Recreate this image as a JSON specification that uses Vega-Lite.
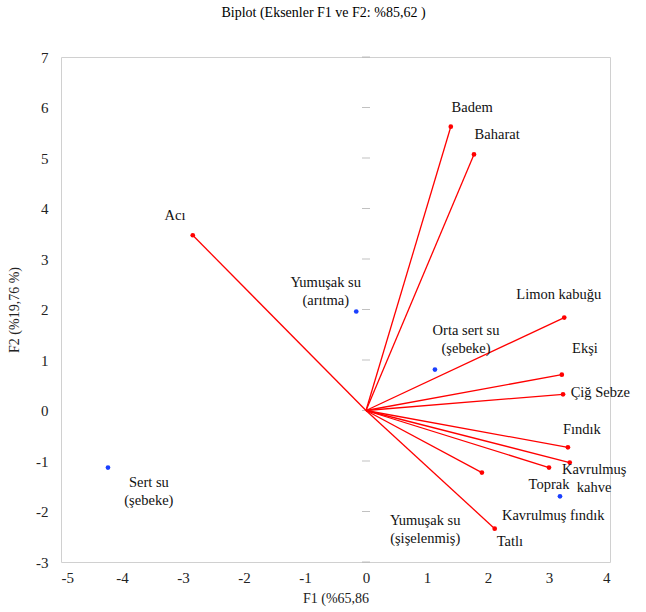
{
  "$schema": "https://vega.github.io/schema/vega-lite/v6.json",
  "width": 549,
  "height": 505,
  "autosize": {"type": "none"},
  "padding": {"left": 61, "top": 57, "right": 36, "bottom": 50},
  "background": "white",
  "title": {
    "text": "Biplot (Eksenler F1 ve F2: %85,62 )",
    "font": "Times New Roman, Liberation Serif, serif",
    "fontSize": 14,
    "fontWeight": "normal",
    "color": "#000000",
    "anchor": "middle",
    "dx": -12,
    "offset": 30
  },
  "config": {
    "font": "Times New Roman, Liberation Serif, serif",
    "view": {"stroke": "#d0d0d0", "strokeWidth": 1},
    "axis": {
      "grid": false,
      "domain": false,
      "ticks": false,
      "labelFont": "Times New Roman, Liberation Serif, serif",
      "labelFontSize": 15,
      "labelColor": "#222222",
      "titleFont": "Times New Roman, Liberation Serif, serif",
      "titleFontSize": 14,
      "titleFontWeight": "normal",
      "titleColor": "#222222"
    }
  },
  "datasets": {
    "vectors": [
      {"name": "Badem", "x": 1.39, "y": 5.62},
      {"name": "Baharat", "x": 1.77, "y": 5.07},
      {"name": "Acı", "x": -2.84, "y": 3.47},
      {"name": "Limon kabuğu", "x": 3.25, "y": 1.84},
      {"name": "Ekşi", "x": 3.21, "y": 0.71},
      {"name": "Çiğ Sebze", "x": 3.23, "y": 0.32},
      {"name": "Fındık", "x": 3.31, "y": -0.73},
      {"name": "Kavrulmuş kahve", "x": 3.34, "y": -1.03},
      {"name": "Toprak", "x": 3.0, "y": -1.13},
      {"name": "Kavrulmuş fındık", "x": 1.9, "y": -1.23},
      {"name": "Tatlı", "x": 2.11, "y": -2.34}
    ],
    "obs": [
      {"name": "Yumuşak su (arıtma)", "x": -0.16, "y": 1.96},
      {"name": "Orta sert su (şebeke)", "x": 1.13, "y": 0.81},
      {"name": "Sert su (şebeke)", "x": -4.23, "y": -1.13},
      {"name": "Yumuşak su (şişelenmiş)", "x": 3.18, "y": -1.7}
    ],
    "labels": [
      {"text": "Badem", "lx": 1.74, "ly": 6.0},
      {"text": "Baharat", "lx": 2.15, "ly": 5.45},
      {"text": "Acı", "lx": -3.13, "ly": 3.86},
      {"text": "Yumuşak su\n(arıtma)", "lx": -0.66, "ly": 2.53},
      {"text": "Limon kabuğu", "lx": 3.16, "ly": 2.29},
      {"text": "Orta sert su\n(şebeke)", "lx": 1.64, "ly": 1.58},
      {"text": "Ekşi", "lx": 3.59, "ly": 1.21},
      {"text": "Çiğ Sebze", "lx": 3.84, "ly": 0.34},
      {"text": "Fındık", "lx": 3.54, "ly": -0.38},
      {"text": "Kavrulmuş\nkahve", "lx": 3.74, "ly": -1.17},
      {"text": "Toprak", "lx": 3.0, "ly": -1.47},
      {"text": "Kavrulmuş fındık", "lx": 3.07, "ly": -2.08},
      {"text": "Tatlı", "lx": 2.36, "ly": -2.61},
      {"text": "Yumuşak su\n(şişelenmiş)", "lx": 0.97, "ly": -2.18},
      {"text": "Sert su\n(şebeke)", "lx": -3.56, "ly": -1.43}
    ],
    "yticks": [
      {"v": -3}, {"v": -2}, {"v": -1}, {"v": 0}, {"v": 1}, {"v": 2},
      {"v": 3}, {"v": 4}, {"v": 5}, {"v": 6}, {"v": 7}
    ]
  },
  "layer": [
    {
      "data": {"name": "yticks"},
      "mark": {"type": "tick", "orient": "horizontal", "size": 8, "thickness": 1, "color": "#a6a6a6"},
      "encoding": {
        "x": {
          "datum": 0,
          "type": "quantitative",
          "scale": {"domain": [-5, 4], "nice": false, "zero": false},
          "axis": {"values": [-5, -4, -3, -2, -1, 0, 1, 2, 3, 4], "title": "F1 (%65,86", "labelPadding": 8, "titlePadding": 6, "labelExpr": "'' + datum.value"}
        },
        "y": {
          "field": "v",
          "type": "quantitative",
          "scale": {"domain": [-3, 7], "nice": false, "zero": false},
          "axis": {"values": [-3, -2, -1, 0, 1, 2, 3, 4, 5, 6, 7], "title": "F2 (%19,76 %)", "labelPadding": 13, "titlePadding": 14, "labelExpr": "'' + datum.value"}
        }
      }
    },
    {
      "mark": {"type": "rule", "color": "#a6a6a6", "strokeWidth": 1},
      "encoding": {
        "x": {"datum": 0, "type": "quantitative"}
      }
    },
    {
      "mark": {"type": "rule", "color": "#a6a6a6", "strokeWidth": 1},
      "encoding": {
        "y": {"datum": 0, "type": "quantitative"}
      }
    },
    {
      "data": {"name": "vectors"},
      "mark": {"type": "rule", "color": "#ff0000", "strokeWidth": 1.3},
      "encoding": {
        "x": {"field": "x", "type": "quantitative"},
        "y": {"field": "y", "type": "quantitative"},
        "x2": {"datum": 0},
        "y2": {"datum": 0}
      }
    },
    {
      "data": {"name": "vectors"},
      "mark": {"type": "circle", "color": "#ff0000", "size": 22, "opacity": 1},
      "encoding": {
        "x": {"field": "x", "type": "quantitative"},
        "y": {"field": "y", "type": "quantitative"}
      }
    },
    {
      "data": {"name": "obs"},
      "mark": {"type": "circle", "color": "#1a3fff", "size": 22, "opacity": 1},
      "encoding": {
        "x": {"field": "x", "type": "quantitative"},
        "y": {"field": "y", "type": "quantitative"}
      }
    },
    {
      "data": {"name": "labels"},
      "mark": {"type": "text", "font": "Times New Roman, Liberation Serif, serif", "fontSize": 14.5, "align": "center", "baseline": "middle", "lineBreak": "\n", "lineHeight": 18, "color": "#111111"},
      "encoding": {
        "x": {"field": "lx", "type": "quantitative"},
        "y": {"field": "ly", "type": "quantitative"},
        "text": {"field": "text"}
      }
    }
  ]
}
